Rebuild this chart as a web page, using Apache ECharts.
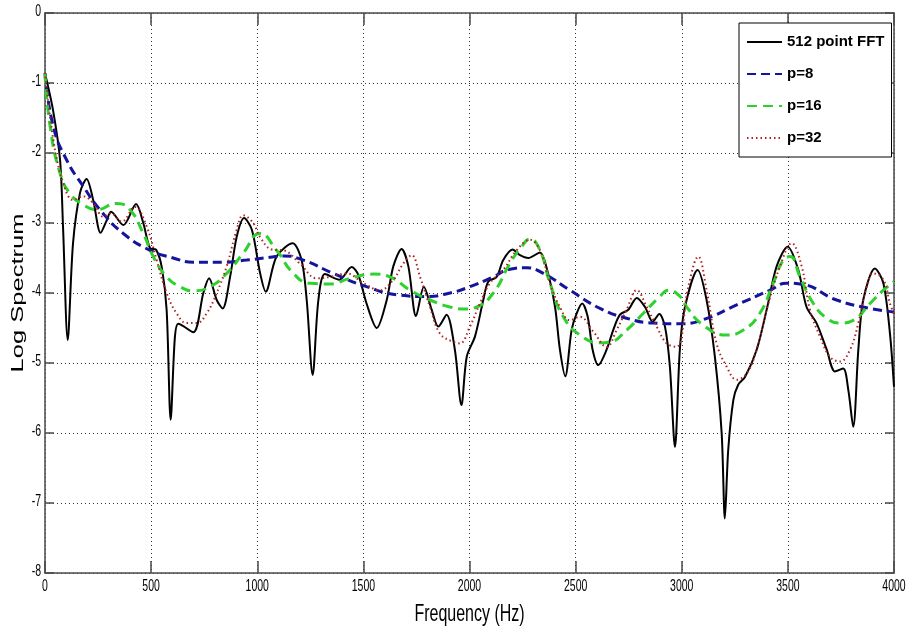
<!DOCTYPE html>
<html>
<head>
<meta charset="utf-8">
<script src="https://cdn.jsdelivr.net/npm/echarts@6/dist/echarts.min.js"></script>
<style>
  html, body { margin: 0; padding: 0; background: #fff; }
  #chart { width: 909px; height: 632px; }
</style>
</head>
<body>
<div id="chart"></div>
<script>
// 512 point FFT log spectrum
var fftHz = [0, 38, 71, 85, 107, 132, 165, 196, 227, 262, 291, 311, 369, 429, 463, 495, 523, 550, 573, 592, 612, 628, 699, 746, 773, 809, 837, 872, 903, 938, 975, 1013, 1040, 1091, 1167, 1209, 1233, 1261, 1288, 1319, 1387, 1445, 1476, 1515, 1563, 1610, 1641, 1680, 1712, 1748, 1785, 1822, 1853, 1892, 1931, 1962, 1987, 2026, 2065, 2088, 2128, 2159, 2203, 2238, 2277, 2332, 2366, 2403, 2426, 2451, 2481, 2505, 2531, 2557, 2580, 2607, 2646, 2677, 2709, 2748, 2788, 2827, 2863, 2894, 2921, 2944, 2968, 2991, 3015, 3075, 3117, 3156, 3188, 3203, 3219, 3243, 3266, 3298, 3353, 3400, 3447, 3499, 3549, 3588, 3635, 3683, 3722, 3761, 3785, 3808, 3832, 3855, 3910, 3950, 3981, 4000];
var fftLog = [-0.86, -1.39, -2.1, -3.06, -4.67, -3.29, -2.57, -2.37, -2.67, -3.14, -2.96, -2.84, -3.03, -2.73, -3.0, -3.36, -3.38, -3.63, -4.24, -5.81, -4.63, -4.44, -4.56, -4.0, -3.79, -4.1, -4.22, -3.77, -3.2, -2.93, -3.1, -3.71, -3.98, -3.48, -3.29, -3.53, -4.1, -5.17, -4.1, -3.73, -3.81, -3.63, -3.74, -4.15, -4.5, -4.1, -3.62, -3.37, -3.62, -4.33, -3.91, -4.24, -4.48, -4.31, -4.81, -5.6, -4.91, -4.62, -4.1, -3.84, -3.77, -3.53, -3.38, -3.46, -3.5, -3.42, -3.67, -4.2, -4.81, -5.19, -4.53, -4.29, -4.15, -4.34, -4.81, -5.03, -4.81, -4.53, -4.31, -4.24, -4.07, -4.2, -4.41, -4.3, -4.48, -5.05, -6.2, -4.81, -4.2, -3.67, -4.1, -4.91, -6.0, -7.22, -6.24, -5.53, -5.31, -5.2, -4.81, -4.24, -3.62, -3.34, -3.67, -4.2, -4.43, -4.81, -5.12, -5.08, -5.39, -5.91, -4.81, -4.1, -3.65, -3.86, -4.58, -5.34];

// LPC envelope, order 8
var p8Hz = [0, 39, 102, 181, 259, 369, 495, 604, 699, 840, 950, 1060, 1123, 1217, 1358, 1515, 1672, 1798, 1908, 2002, 2112, 2190, 2269, 2348, 2473, 2615, 2740, 2866, 2992, 3102, 3259, 3416, 3494, 3557, 3730, 3887, 4000];
var p8Log = [-0.86, -1.62, -2.1, -2.48, -2.81, -3.15, -3.39, -3.5, -3.56, -3.56, -3.53, -3.49, -3.47, -3.53, -3.72, -3.91, -4.03, -4.05, -4.0, -3.91, -3.77, -3.66, -3.64, -3.72, -3.96, -4.22, -4.36, -4.43, -4.44, -4.38, -4.17, -3.96, -3.86, -3.87, -4.1, -4.22, -4.27];

// LPC envelope, order 16
var p16Hz = [0, 24, 71, 118, 181, 243, 338, 400, 463, 510, 573, 636, 699, 777, 856, 934, 1013, 1091, 1170, 1249, 1343, 1437, 1547, 1625, 1720, 1814, 1908, 1980, 2034, 2112, 2190, 2245, 2285, 2332, 2379, 2442, 2520, 2615, 2662, 2740, 2819, 2897, 2937, 2992, 3023, 3102, 3211, 3290, 3368, 3431, 3478, 3510, 3557, 3620, 3683, 3746, 3808, 3887, 3950, 4000];
var p16Log = [-0.86, -1.62, -2.29, -2.58, -2.74, -2.81, -2.72, -2.81, -3.15, -3.48, -3.77, -3.91, -3.97, -3.91, -3.72, -3.43, -3.15, -3.39, -3.72, -3.86, -3.87, -3.79, -3.73, -3.77, -3.96, -4.1, -4.2, -4.23, -4.2, -4.0, -3.58, -3.34, -3.23, -3.39, -3.86, -4.34, -4.6, -4.71, -4.7, -4.53, -4.29, -4.05, -3.96, -4.05, -4.2, -4.46, -4.6, -4.53, -4.29, -3.86, -3.53, -3.48, -3.77, -4.15, -4.36, -4.43, -4.39, -4.15, -3.96, -3.84];

// LPC envelope, order 32
var p32Hz = [0, 39, 86, 133, 181, 228, 275, 311, 361, 424, 479, 526, 573, 620, 668, 715, 762, 809, 856, 903, 934, 981, 1013, 1070, 1123, 1201, 1280, 1343, 1421, 1500, 1578, 1641, 1688, 1727, 1767, 1814, 1861, 1924, 1955, 2002, 2049, 2096, 2159, 2222, 2285, 2332, 2379, 2426, 2473, 2520, 2583, 2646, 2693, 2740, 2788, 2835, 2882, 2929, 2976, 3031, 3078, 3117, 3164, 3211, 3259, 3306, 3353, 3400, 3463, 3518, 3565, 3604, 3651, 3698, 3746, 3793, 3832, 3871, 3902, 3950, 3981, 4000];
var p32Log = [-0.85, -1.81, -2.43, -2.67, -2.62, -2.72, -2.91, -2.86, -2.98, -2.77, -3.05, -3.53, -4.0, -4.29, -4.43, -4.43, -4.29, -4.0, -3.62, -3.1, -2.89, -3.0, -3.2, -3.38, -3.39, -3.58, -3.79, -3.77, -3.72, -3.86, -3.96, -3.81, -3.58, -3.46, -3.77, -4.2, -4.58, -4.7, -4.72, -4.48, -4.15, -3.86, -3.67, -3.39, -3.24, -3.39, -3.86, -4.2, -4.39, -4.34, -4.55, -4.77, -4.53, -4.24, -3.96, -4.2, -4.48, -4.72, -4.77, -3.91, -3.48, -3.96, -4.72, -5.05, -5.24, -5.15, -4.81, -4.24, -3.62, -3.29, -3.62, -4.24, -4.62, -4.91, -4.98, -4.81, -4.43, -3.91, -3.72, -3.81, -4.15, -4.3];

var seriesNames = ['512 point FFT', 'p=8', 'p=16', 'p=32'];

// axis ranges and tick labels
var xRange = [0, 4000], xStep = 500;
var yRange = [-8, 0], yStep = 1;
var xTicks = [0, 500, 1000, 1500, 2000, 2500, 3000, 3500, 4000];
var yTicks = [-8, -7, -6, -5, -4, -3, -2, -1, 0];

function pairs(xs, ys) {
  return xs.map(function (x, i) { return [x, ys[i]]; });
}

var axisColor = '#4a4a4a';
var sans = '"Liberation Sans", Arial, sans-serif';

function xAxisDef(pos, withGrid) {
  return {
    type: 'value', position: pos, min: xRange[0], max: xRange[1], interval: xStep,
    axisLine: { show: true, onZero: false, lineStyle: { color: axisColor, width: 1.5 } },
    axisTick: { show: true, inside: true, length: 12, lineStyle: { color: axisColor, width: 1.5 } },
    axisLabel: { show: false },
    splitLine: { show: withGrid, lineStyle: { type: [1, 3], color: '#333', width: 1 } }
  };
}
function yAxisDef(pos, withGrid) {
  return {
    type: 'value', position: pos, min: yRange[0], max: yRange[1], interval: yStep,
    axisLine: { show: true, onZero: false, lineStyle: { color: axisColor, width: 1.5 } },
    axisTick: { show: true, inside: true, length: 9, lineStyle: { color: axisColor, width: 1.5 } },
    axisLabel: { show: false },
    splitLine: { show: withGrid, lineStyle: { type: [1, 3], color: '#333', width: 1 } }
  };
}

var chart = echarts.init(document.getElementById('chart'), null, { renderer: 'canvas' });

chart.setOption({
  animation: false,
  backgroundColor: '#fff',
  grid: { left: 45, right: 15, top: 13, bottom: 59, containLabel: false },
  xAxis: [xAxisDef('bottom', true), xAxisDef('top', false)],
  yAxis: [yAxisDef('left', true), yAxisDef('right', false)],
  legend: {
    data: seriesNames,
    orient: 'vertical',
    left: 739, top: 23,
    padding: [9, 7, 9, 7],
    backgroundColor: '#fff',
    borderColor: '#000', borderWidth: 1, borderRadius: 0,
    itemWidth: 35, itemHeight: 20, itemGap: 12,
    itemStyle: { opacity: 0 },
    textStyle: { fontFamily: sans, fontWeight: 'bold', fontSize: 15, color: '#000', lineHeight: 20 },
    selectedMode: false
  },
  series: [
    {
      name: seriesNames[0], type: 'line', data: pairs(fftHz, fftLog),
      symbol: 'none', smooth: 0.3, z: 2,
      lineStyle: { color: '#000', width: 2 }, itemStyle: { color: '#000' }
    },
    {
      name: seriesNames[1], type: 'line', data: pairs(p8Hz, p8Log),
      symbol: 'none', smooth: 0.5, z: 3,
      lineStyle: { color: '#14149c', width: 3, type: [9, 5] }, itemStyle: { color: '#14149c' }
    },
    {
      name: seriesNames[2], type: 'line', data: pairs(p16Hz, p16Log),
      symbol: 'none', smooth: 0.5, z: 4,
      lineStyle: { color: '#2fd12f', width: 3, type: [10, 6] }, itemStyle: { color: '#2fd12f' }
    },
    {
      name: seriesNames[3], type: 'line', data: pairs(p32Hz, p32Log),
      symbol: 'none', smooth: 0.4, z: 5,
      lineStyle: { color: '#b22222', width: 2, type: [1.5, 3] }, itemStyle: { color: '#b22222' }
    }
  ]
});

// Tick labels and axis titles: tall, narrow lettering, placed through the axis scales
var gridBottom = chart.convertToPixel({ yAxisIndex: 0 }, yRange[0]);
var gridLeft = chart.convertToPixel({ xAxisIndex: 0 }, xRange[0]);
var gridRight = chart.convertToPixel({ xAxisIndex: 0 }, xRange[1]);
var gridTop = chart.convertToPixel({ yAxisIndex: 0 }, yRange[1]);

var labels = [];
xTicks.forEach(function (v) {
  labels.push({
    type: 'text', x: chart.convertToPixel({ xAxisIndex: 0 }, v), y: gridBottom + 14, scaleY: 1.5,
    style: { text: String(v), font: '10.5px ' + sans, fill: '#000', align: 'center', verticalAlign: 'middle' }
  });
});
yTicks.forEach(function (v) {
  labels.push({
    type: 'text', x: gridLeft - 4, y: chart.convertToPixel({ yAxisIndex: 0 }, v) - 1, scaleY: 1.5,
    style: { text: String(v), font: '10.5px ' + sans, fill: '#000', align: 'right', verticalAlign: 'middle' }
  });
});
labels.push({
  type: 'text', x: 18, y: (gridTop + gridBottom) / 2, rotation: Math.PI / 2, scaleX: 1.5,
  style: { text: 'Log Spectrum', font: '17px ' + sans, fill: '#000', align: 'center', verticalAlign: 'middle' }
});
labels.push({
  type: 'text', x: (gridLeft + gridRight) / 2, y: 614, scaleY: 1.5,
  style: { text: 'Frequency (Hz)', font: '16px ' + sans, fill: '#000', align: 'center', verticalAlign: 'middle' }
});
chart.setOption({ graphic: labels });
</script>
</body>
</html>
